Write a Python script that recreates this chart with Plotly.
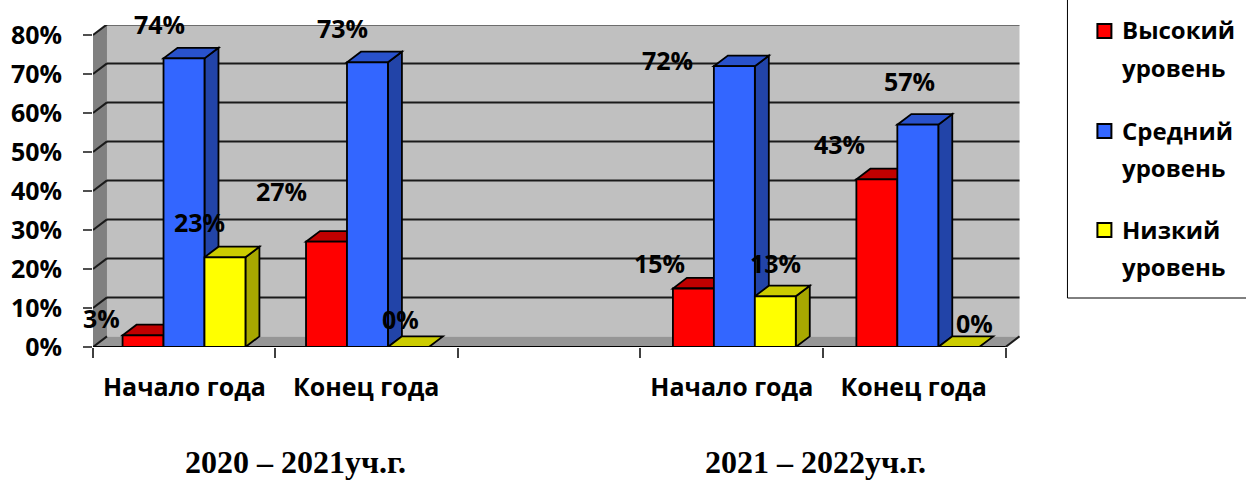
import plotly.graph_objects as go

# ---- data ----
slots = [0, 1, 3, 4]
period_labels = ["Начало года", "Конец года", "Начало года", "Конец года"]
high = [3, 27, 15, 43]
mid = [74, 73, 72, 57]
low = [23, 0, 13, 0]
y_ticks = [0, 10, 20, 30, 40, 50, 60, 70, 80]
y_tick_text = ["0%", "10%", "20%", "30%", "40%", "50%", "60%", "70%", "80%"]
series_names = ["Высокий уровень", "Средний уровень", "Низкий уровень"]
year_titles = ["2020 – 2021уч.г.", "2021 – 2022уч.г."]

# ---- layout constants ----
W, H = 1246, 481
PX_X = 183.65            # px per category slot
PX_Y = 3.9               # px per percent
ORIGIN = 183.6           # px of slot 0
L, R, T, B = 92.5, 1020.5, 25, 347
X0 = (L - ORIGIN) / PX_X
X_FRONT_END = (1006 - ORIGIN) / PX_X
X1 = (R - ORIGIN) / PX_X
Y1 = (B - T) / PX_Y
DX = 14 / PX_X
DY = 10.6 / PX_Y
BW = 41 / PX_X
tick_x = [(p - ORIGIN) / PX_X for p in (92.5, 275, 457.7, 640.4, 823, 1006)]
label_x = [(p - ORIGIN) / PX_X for p in (184, 366, 732, 914)]

FONT = "Open Sans"
TEXT = 25

fills = [("#FF0000", "#C00000", "#A80000"),
         ("#3366FF", "#2952CC", "#2244A8"),
         ("#FFFF00", "#CCCC00", "#A8A800")]
# (x, y) pixel shift of each data label from its bar's top centre
shifts = {0: [(-42, 17), (-45, 51), (-34, 26), (-37, 35)],
          1: [(-25, 34), (-25, 34), (-67, 6), (-8, 44)],
          2: [(-25, 35), (-8, 28), (0, 33), (16, 24)]}
legend_rows_px = [(31, 68), (131, 168), (230, 267)]


def px_x(p):
    return (p - L) / (R - L)


def px_y(p):
    return (B - p) / (B - T)


def poly(points, fill, line="#000000", width=1.8):
    path = "M" + " L".join(f"{x:.5f},{y:.5f}" for x, y in points) + " Z"
    return dict(type="path", path=path, xref="x", yref="y", fillcolor=fill,
                line=dict(color=line, width=width), layer="between")


def seg(x0, y0, x1, y1, color="#1A1A1A", width=2):
    return dict(type="line", x0=x0, y0=y0, x1=x1, y1=y1, xref="x", yref="y",
                line=dict(color=color, width=width), layer="between")


shapes = [
    poly([(X0 + DX, DY), (X_FRONT_END + DX, DY), (X_FRONT_END + DX, 80 + DY), (X0 + DX, 80 + DY)],
         "#C0C0C0", "#C0C0C0", 0),
    poly([(X0, 0), (X0 + DX, DY), (X0 + DX, 80 + DY), (X0, 80)], "#808080", "#808080", 0),
    poly([(X0, 0), (X_FRONT_END, 0), (X_FRONT_END + DX, DY), (X0 + DX, DY)], "#969696", "#969696", 0),
]
for v in y_ticks[1:]:
    shapes.append(seg(X0 + DX, v + DY, X_FRONT_END + DX, v + DY))
    shapes.append(seg(X0, v, X0 + DX, v + DY))
shapes.append(seg(X_FRONT_END, 0, X_FRONT_END + DX, DY))
shapes.append(seg(X0, 0, X0 + DX, DY))

all_series = [high, mid, low]
for i, slot in enumerate(slots):
    for s, values in enumerate(all_series):
        v = values[i]
        left = slot + (s - 1.5) * BW
        right = left + BW
        if v > 0:
            shapes.append(poly([(right, 0), (right + DX, DY), (right + DX, v + DY), (right, v)], fills[s][2]))
        shapes.append(poly([(left, v), (right, v), (right + DX, v + DY), (left + DX, v + DY)], fills[s][1]))

fig = go.Figure()
for s, values in enumerate(all_series):
    fig.add_trace(go.Bar(
        x=slots, y=values, name=series_names[s], showlegend=False,
        marker=dict(color=fills[s][0], line=dict(color="#000000", width=1.8)),
    ))

# front axis line
shapes.append(dict(type="line", x0=X0, y0=0, x1=X_FRONT_END, y1=0, xref="x", yref="y",
                   line=dict(color="#000000", width=2), layer="above"))
# legend frame: runs off the page at the top and right
shapes.append(dict(type="path", xref="paper", yref="paper",
                   path=f"M{px_x(1068):.5f},{px_y(-60):.5f} L{px_x(1068):.5f},{px_y(298):.5f} "
                        f"L{px_x(1300):.5f},{px_y(298):.5f}",
                   line=dict(color="#000000", width=1), layer="above"))

annotations = []
for s, values in enumerate(all_series):
    for i, slot in enumerate(slots):
        sx, sy = shifts[s][i]
        annotations.append(dict(x=slot + (s - 1) * BW, y=values[i], xref="x", yref="y",
                                text=f"{values[i]}%", showarrow=False, xshift=sx, yshift=sy,
                                xanchor="center", yanchor="middle",
                                font=dict(family=FONT, size=TEXT, color="#000000", weight="bold")))
for text, px in zip(year_titles, (295, 816)):
    annotations.append(dict(x=px_x(px), y=px_y(462), xref="paper", yref="paper", text=text,
                            showarrow=False, xanchor="center", yanchor="middle",
                            font=dict(family="Liberation Serif", size=32, color="#000000", weight="bold")))

# legend: swatch plus two text rows per series
for s, name in enumerate(series_names):
    y1, y2 = legend_rows_px[s]
    shapes.append(dict(type="rect", xref="paper", yref="paper",
                       x0=px_x(1098), x1=px_x(1112), y0=px_y(y1 + 7), y1=px_y(y1 - 7),
                       fillcolor=fills[s][0], line=dict(color="#000000", width=2), layer="above"))
    for part, y in zip(name.split(" "), (y1 - 1, y2 - 1)):
        annotations.append(dict(x=px_x(1121), y=px_y(y), xref="paper", yref="paper", text=part,
                                showarrow=False, xanchor="left", yanchor="middle",
                                font=dict(family=FONT, size=24, color="#000000", weight="bold")))

fig.update_layout(
    width=W, height=H, autosize=False,
    margin=dict(l=L, r=W - R, t=T, b=H - B, pad=0),
    paper_bgcolor="#FFFFFF", plot_bgcolor="rgba(0,0,0,0)",
    barmode="group", bargap=1 - 3 * BW, bargroupgap=0,
    shapes=shapes, annotations=annotations, showlegend=False,
    font=dict(family=FONT, color="#000000"),
    xaxis=dict(range=[X0, X1], tickmode="array", tickvals=label_x, ticktext=period_labels,
               ticks="", showgrid=False, zeroline=False, showline=False,
               ticklabelstandoff=23,
               tickfont=dict(family=FONT, size=TEXT, weight="bold"),
               minor=dict(tickmode="array", tickvals=tick_x, ticks="outside", ticklen=10,
                          tickwidth=1.5, tickcolor="#404040", showgrid=False)),
    yaxis=dict(range=[0, Y1], tickmode="array", tickvals=y_ticks, ticktext=y_tick_text,
               ticks="outside", ticklen=9, tickwidth=2, tickcolor="#505050",
               showgrid=False, zeroline=False, showline=False, ticklabelstandoff=16,
               tickfont=dict(family=FONT, size=TEXT, weight="bold")),
)

fig.write_html("out.html", config=dict(displayModeBar=False),
               post_script="document.body.style.margin='0';")
